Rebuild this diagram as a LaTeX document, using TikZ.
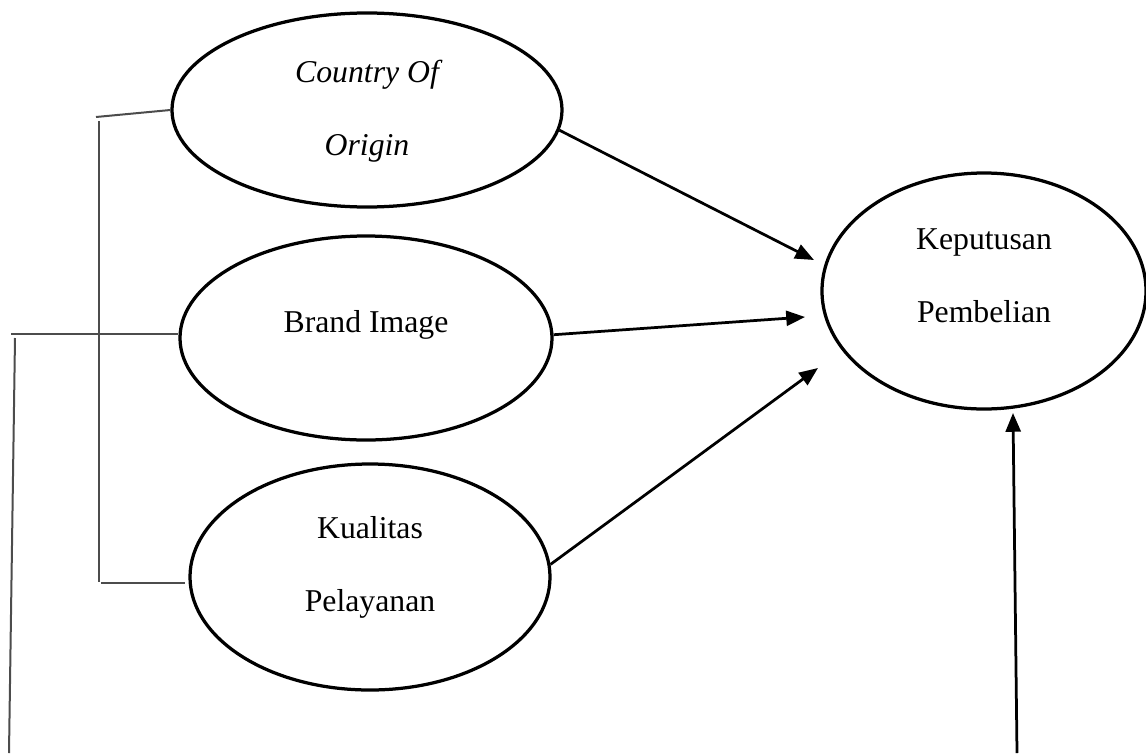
\documentclass[tikz,border=0pt]{standalone}
\usepackage{fontspec}
\setmainfont{Liberation Serif}
\usetikzlibrary{positioning,arrows.meta,shapes.geometric}
\tikzset{
  var/.style={ellipse,draw,line width=1.3pt,inner sep=0pt,align=center,font=\fontsize{12.7}{29.2}\selectfont},
  lift/.style={text depth=#1},
  infl/.style={line width=1.1pt,-{Triangle[length=7.5pt,width=6pt]}},
  brk/.style={line width=0.8pt,black!70}
}
\begin{document}
\begin{tikzpicture}[x=0.4pt,y=-0.4pt]
  \useasboundingbox (0,0) rectangle (1146,753);
  % variables
  \node[var,lift=1.5pt,minimum width=156pt,minimum height=77.6pt,font=\fontsize{12.7}{29.2}\selectfont\itshape] (coo) at (367,110) {Country Of\\Origin};
  \node[var,lift=13pt,minimum width=148.8pt,minimum height=81.6pt] (bi) at (366,338) {Brand Image};
  \node[var,lift=10.6pt,minimum width=144pt,minimum height=90.4pt] (kq) at (370,577) {Kualitas\\Pelayanan};
  \node[var,lift=12.3pt,minimum width=129.6pt,minimum height=94.4pt] (kp) at (984,291) {Keputusan\\Pembelian};
  % arrow tips and free ends
  \coordinate (in1) at (814,260); \coordinate (in2) at (805,317); \coordinate (in3) at (818,368);
  \coordinate (in4) at (1013,413); \coordinate (up0) at (1017,753);
  \draw[infl] (coo.-6) -- (in1); \draw[infl] (bi.1) -- (in2); \draw[infl] (kq.4) -- (in3);
  \draw[infl] (up0) -- (in4);
  % brackets on the left
  \coordinate (brT) at (96,117); \coordinate (brA) at (99,121); \coordinate (brB) at (99,582);
  \coordinate (brC) at (101,583); \coordinate (brD) at (185,583);
  \draw[brk] (brT) -- (coo.west); \draw[brk] (brA) -- (brB); \draw[brk] (brC) -- (brD);
  \coordinate (lnT) at (11,334); \coordinate (lnA) at (15,338); \coordinate (lnB) at (9,753);
  \draw[brk] (lnT) -- (lnT -| bi.west); \draw[brk] (lnA) -- (lnB);
\end{tikzpicture}
\end{document}
